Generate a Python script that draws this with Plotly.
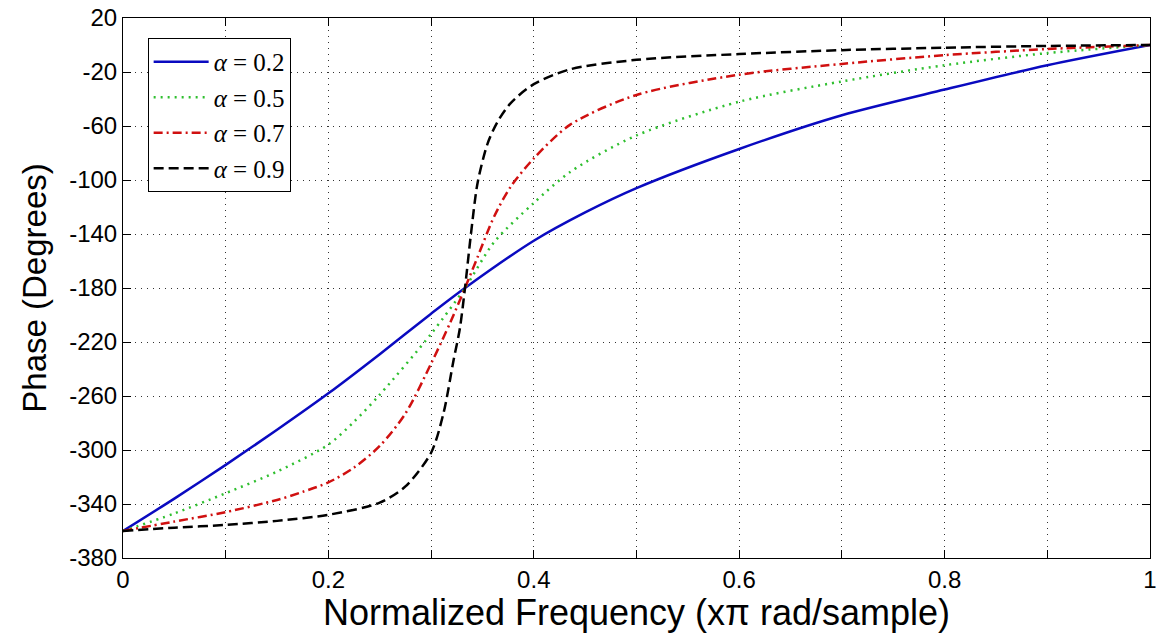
import plotly.graph_objects as go

# Data
x_a02 = [0, 0.05, 0.1, 0.15, 0.2, 0.25, 0.3, 0.333, 0.4, 0.45, 0.5, 0.6, 0.7, 0.8, 0.9, 1.0]
y_a02 = [-360, -336, -311, -285, -258, -229, -199, -180, -145, -124, -106, -77, -52, -33, -15, 0]

x_a05 = [0, 0.05, 0.1, 0.15, 0.2, 0.225, 0.25, 0.3, 0.333, 0.3614, 0.4, 0.4355, 0.5, 0.6, 0.7, 0.8, 0.9, 1.0]
y_a05 = [-360, -347, -332, -316, -296, -279, -259, -214, -180, -146, -117, -94, -67, -42, -27, -15, -6, 0]

x_a07 = [0, 0.05, 0.1, 0.15, 0.175, 0.2, 0.225, 0.25, 0.275, 0.3, 0.319, 0.333, 0.3453, 0.3614, 0.3775, 0.4,
         0.4355, 0.5, 0.6, 0.7, 0.8, 0.9, 1.0]
y_a07 = [-360, -353, -346, -337, -331, -324, -313, -297, -273, -236, -205, -180, -157, -127, -105, -84,
         -59, -37, -22, -14, -7.5, -3, 0]

x_a09 = [0, 0.05, 0.1, 0.15, 0.2, 0.25, 0.275, 0.3, 0.312, 0.322, 0.328, 0.333, 0.3388, 0.3453, 0.355,
         0.3646, 0.3775, 0.4, 0.4355, 0.5, 0.6, 0.7, 0.8, 0.9, 1.0]
y_a09 = [-360, -357.5, -355.5, -352.5, -348, -339, -327, -302, -273, -233, -210, -180, -140, -102, -73,
         -57, -43, -29, -18, -11, -6.7, -3.8, -2, -0.7, 0]

labels = ["<i>α</i> = 0.2", "<i>α</i> = 0.5", "<i>α</i> = 0.7", "<i>α</i> = 0.9"]

x_tickvals = [0, 0.1, 0.2, 0.3, 0.4, 0.5, 0.6, 0.7, 0.8, 0.9, 1.0]
x_ticktext = ["0", "", "0.2", "", "0.4", "", "0.6", "", "0.8", "", "1"]
y_tickvals = [20, -20, -60, -100, -140, -180, -220, -260, -300, -340, -380]
y_ticktext = ["20", "-20", "-60", "-100", "-140", "-180", "-220", "-260", "-300", "-340", "-380"]

fig = go.Figure()
fig.add_trace(go.Scatter(x=x_a02, y=y_a02, mode="lines", name=labels[0],
                         line=dict(color="#0a0ac0", width=2.5, shape="spline", smoothing=0.8)))
fig.add_trace(go.Scatter(x=x_a05, y=y_a05, mode="lines", name=labels[1],
                         line=dict(color="#2fbf2f", width=2.5, dash="2px,5px", shape="spline", smoothing=0.8)))
fig.add_trace(go.Scatter(x=x_a07, y=y_a07, mode="lines", name=labels[2],
                         line=dict(color="#d01010", width=2.5, dash="9px,4px,2px,4px", shape="spline", smoothing=0.8)))
fig.add_trace(go.Scatter(x=x_a09, y=y_a09, mode="lines", name=labels[3],
                         line=dict(color="#000000", width=2.5, dash="10px,5px", shape="spline", smoothing=0.8)))

axis_common = dict(
    showline=True, linecolor="black", linewidth=1, mirror="ticks",
    ticks="inside", ticklen=8, tickcolor="black", tickwidth=1,
    showgrid=True, gridcolor="#333333", griddash="1px,5px", gridwidth=1,
    zeroline=False, automargin=False,
    tickfont=dict(family="Liberation Sans, Arial", size=24, color="black"),
)

fig.update_layout(
    width=1158, height=633,
    margin=dict(l=123, r=8, t=18, b=75),
    paper_bgcolor="white", plot_bgcolor="white",
    xaxis=dict(range=[0, 1], tickvals=x_tickvals, ticktext=x_ticktext,
               ticklabeloverflow="allow",
               title=dict(text="Normalized Frequency (xπ rad/sample)",
                          font=dict(family="Liberation Sans, Arial", size=36, color="black"),
                          standoff=0),
               **axis_common),
    yaxis=dict(range=[-380, 20], tickvals=y_tickvals, ticktext=y_ticktext,
               title=dict(text="Phase (Degrees)",
                          font=dict(family="Liberation Sans, Arial", size=33, color="black"),
                          standoff=12),
               **axis_common),
    legend=dict(x=0.024, y=0.963, xanchor="left", yanchor="top",
                bgcolor="white", bordercolor="black", borderwidth=1,
                font=dict(family="Liberation Serif, Times New Roman", size=25, color="black"),
                itemwidth=55),
    showlegend=True,
)

fig.write_html("out.html")
